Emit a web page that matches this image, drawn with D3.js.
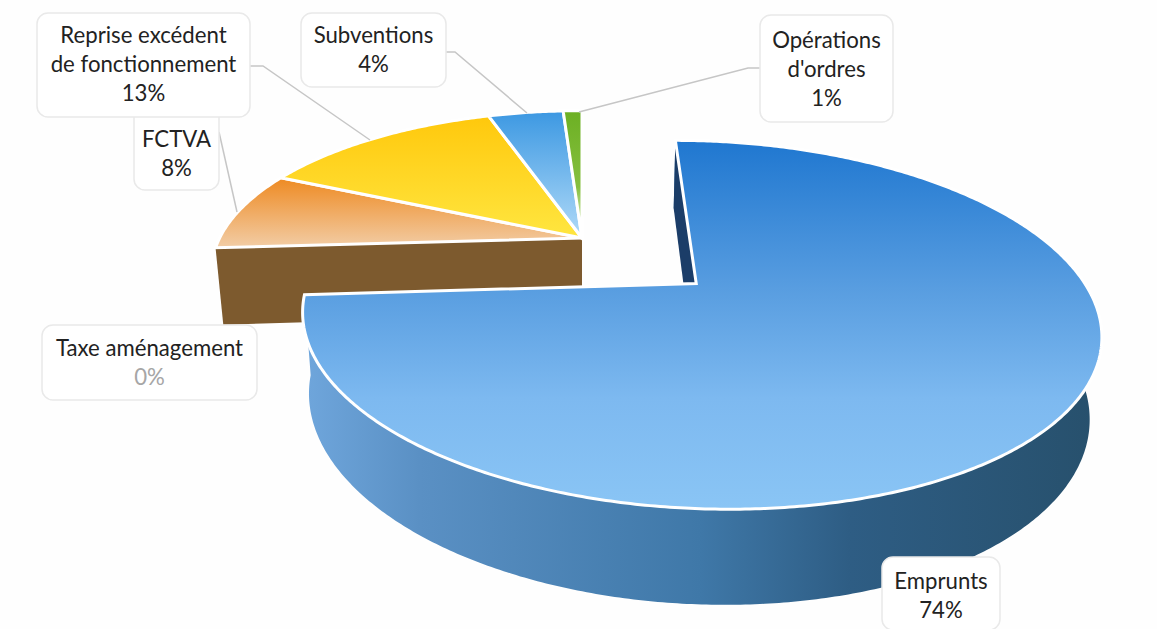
<!DOCTYPE html>
<html lang="fr">
<head>
<meta charset="utf-8">
<script src="https://cdnjs.cloudflare.com/ajax/libs/d3/7.8.5/d3.min.js"></script>
<style>
  html, body { margin: 0; padding: 0; background: #fefefe; }
  svg { display: block; }
  text { font-family: Lato, "Open Sans", sans-serif; font-size: 22.2px; fill: #222; text-anchor: middle; }
</style>
</head>
<body>
<svg id="chart" width="1157" height="629"></svg>
<script>
// Budget breakdown, clockwise from twelve o'clock.
const categories = ["Emprunts", "Taxe aménagement", "FCTVA", "Reprise excédent de fonctionnement", "Subventions", "Opérations d'ordres"];
const values = [74, 0, 8, 13, 4, 1];
const valueLabels = ["74%", "0%", "8%", "13%", "4%", "1%"];

// Fill gradients for the top faces, as [offset, colour] from far edge to near edge.
const topColours = [
  [[0, "#1f77d0"], [40, "#589de0"], [70, "#7db9f0"], [100, "#8ac5f5"]],
  [[0, "#7d5a2e"], [100, "#7d5a2e"]],
  [[0, "#ee8a22"], [100, "#f2cda6"]],
  [[0, "#ffc80c"], [100, "#ffe640"]],
  [[0, "#3c98e2"], [100, "#b0daf8"]],
  [[0, "#6cb023"], [60, "#86bf3f"], [100, "#f6fbec"]]
];
// Colours of the radial cut faces that remain visible.
const cutColours = ["#1b3d68", "#7d5a2e", null, null, null, null];
const explode = [0.40, 0, 0, 0, 0, 0];
const radius = [0.992, 0.982, 0.982, 0.982, 0.982, 0.982];

// Label boxes: [x, y, w, h], wrapped text lines, first baseline.
const labelBoxes = [
  [882, 557, 118, 73], [42, 325, 215, 75], [134, 105, 85, 85],
  [37, 13, 213, 104], [301, 13, 145, 74], [760, 15, 133, 107]
];
const labelLines = [
  ["Emprunts"], ["Taxe aménagement"], ["FCTVA"],
  ["Reprise excédent", "de fonctionnement"], ["Subventions"], ["Opérations", "d'ordres"]
];
const labelBaselines = [589, 356, 147, 43, 43, 48];
const leaders = [
  null, null,
  [[219, 132], [237, 212]],
  [[250, 66], [263, 66], [370, 140]],
  [[446, 52], [455, 52], [527, 113]],
  [[760, 68], [748, 68], [579, 112]]
];
// Painter's order: boxes stack so the upper ones cover the ones below.
const labelOrder = [2, 3, 4, 5, 1, 0];

// Perspective camera: depth lines converge on (vx, vy); the plate has unit radius.
const cam = { vx: 582, vy: -500, F: 1738, D: 4.71, H: 2.0, T: 0.253, shrink: 0.1 };
function project(x, z, level) {
  const s = cam.F / (cam.D + z + level * cam.shrink);
  return [cam.vx + x * s, cam.vy + (cam.H + level * cam.T) * s];
}

const slices = d3.pie().sort(null).startAngle(0).endAngle(2 * Math.PI)(values);
const line = d3.line();

function centre(i) {
  const mid = (slices[i].startAngle + slices[i].endAngle) / 2;
  return [explode[i] * Math.sin(mid), explode[i] * Math.cos(mid)];
}
function rimPoint(i, angle, level) {
  const [ox, oz] = centre(i);
  return project(ox + radius[i] * Math.sin(angle), oz + radius[i] * Math.cos(angle), level);
}
function hubPoint(i, level) {
  const [ox, oz] = centre(i);
  return project(ox, oz, level);
}
function rimArc(i, level) {
  const a = slices[i].startAngle, b = slices[i].endAngle;
  const n = Math.max(2, Math.ceil((b - a) / 0.01));
  return d3.range(n + 1).map(k => rimPoint(i, a + (b - a) * k / n, level));
}

const svg = d3.select("#chart");
const defs = svg.append("defs");

topColours.forEach((stops, i) => {
  const g = defs.append("linearGradient").attr("id", "top" + i)
    .attr("x1", 0).attr("y1", 0).attr("x2", 0).attr("y2", 1);
  stops.forEach(s => g.append("stop").attr("offset", s[0] + "%").attr("stop-color", s[1]));
});

// Outer wall of the big slice gets darker towards the right.
const wallStops = [[304, "#6fa6dc"], [420, "#5a90c4"], [700, "#3f78a8"], [850, "#2e5d84"], [1101, "#27506c"]];
const wallScale = d3.scaleLinear().domain([304, 1101]).range([0, 100]);
const wall = defs.append("linearGradient").attr("id", "wall")
  .attr("gradientUnits", "userSpaceOnUse").attr("x1", 304).attr("y1", 0).attr("x2", 1101).attr("y2", 0);
wallStops.forEach(s => wall.append("stop").attr("offset", wallScale(s[0]) + "%").attr("stop-color", s[1]));

const plate = svg.append("g");

function drawSlice(i) {
  const g = plate.append("g").attr("class", "slice");
  const top = rimArc(i, 0), bottom = rimArc(i, 1);
  if (i === 0) {
    g.append("path").attr("d", line(top.concat(bottom.slice().reverse())) + "Z").attr("fill", "url(#wall)");
  }
  if (cutColours[i]) {
    const a = slices[i].startAngle;
    const face = [hubPoint(i, 0), rimPoint(i, a, 0), rimPoint(i, a, 1), hubPoint(i, 1)];
    g.append("path").attr("d", line(face) + "Z").attr("fill", cutColours[i]);
  }
  if (values[i] > 0) {
    g.append("path").attr("d", line([hubPoint(i, 0)].concat(top)) + "Z")
      .attr("fill", `url(#top${i})`)
      .attr("stroke", "#fff").attr("stroke-width", 3).attr("stroke-linejoin", "miter");
  }
}
// The brown cut face sits behind the neighbouring tops, the exploded slice sits in front of all.
drawSlice(1);
[2, 3, 4, 5].forEach(drawSlice);
drawSlice(0);

// Leader lines.
svg.append("g").selectAll("path").data(leaders.filter(Boolean)).join("path")
  .attr("d", d => line(d)).attr("fill", "none").attr("stroke", "#c6c6c6").attr("stroke-width", 1.5);

// Labels.
const labels = svg.append("g").selectAll("g").data(labelOrder).join("g");
labels.append("rect")
  .attr("x", i => labelBoxes[i][0]).attr("y", i => labelBoxes[i][1])
  .attr("width", i => labelBoxes[i][2]).attr("height", i => labelBoxes[i][3])
  .attr("rx", 11).attr("fill", "#fff").attr("stroke", "#e9e9e9").attr("stroke-width", 1.5);
labels.each(function (i) {
  const cx = labelBoxes[i][0] + labelBoxes[i][2] / 2;
  const lines = labelLines[i];
  const g = d3.select(this);
  lines.forEach((t, k) => {
    g.append("text").attr("x", cx).attr("y", labelBaselines[i] + k * 29).text(t);
  });
  g.append("text").attr("x", cx).attr("y", labelBaselines[i] + lines.length * 29)
    .style("fill", values[i] === 0 ? "#a6a6a6" : "#222").text(valueLabels[i]);
});
</script>
</body>
</html>
